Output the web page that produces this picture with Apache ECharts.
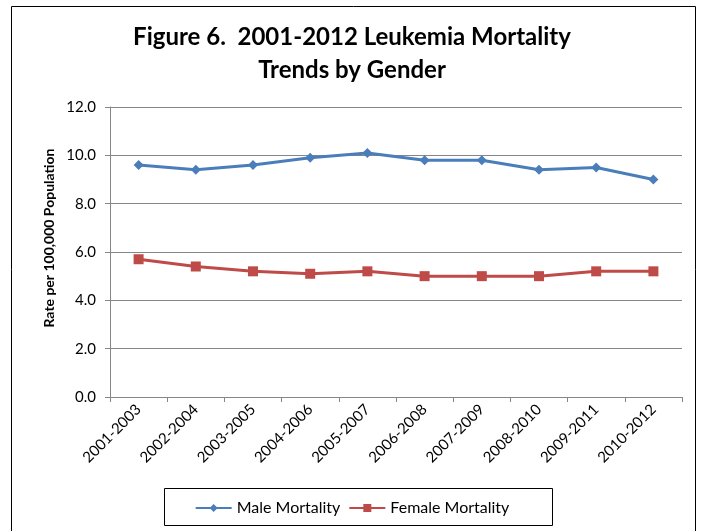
<!DOCTYPE html>
<html>
<head>
<meta charset="utf-8">
<script src="https://cdn.jsdelivr.net/npm/echarts@6/dist/echarts.min.js"></script>
<style>
  body { margin: 0; background: #fff; }
  #chart { width: 704px; height: 531px; }
</style>
</head>
<body>
<div id="chart"></div>
<script>
// data
var categories = ['2001-2003', '2002-2004', '2003-2005', '2004-2006', '2005-2007',
                  '2006-2008', '2007-2009', '2008-2010', '2009-2011', '2010-2012'];
var maleMortality = [9.6, 9.4, 9.6, 9.9, 10.1, 9.8, 9.8, 9.4, 9.5, 9.0];
var femaleMortality = [5.7, 5.4, 5.2, 5.1, 5.2, 5.0, 5.0, 5.0, 5.2, 5.2];
var yTicks = [0, 2, 4, 6, 8, 10, 12];

var font = 'Lato, "Open Sans", sans-serif';
var chart = echarts.init(document.getElementById('chart'));

var option = {
  animation: false,
  textStyle: { fontFamily: font },
  title: {
    text: 'Figure 6.  2001-2012 Leukemia Mortality\nTrends by Gender',
    left: 'center',
    top: 16,
    textStyle: { fontSize: 24, fontWeight: 'bold', color: '#000', lineHeight: 33, fontFamily: font }
  },
  graphic: [{
    type: 'rect',
    shape: { x: 11.5, y: 6.5, width: 684, height: 540 },
    style: { fill: 'none', stroke: '#000', lineWidth: 1 },
    silent: true
  }, {
    type: 'rect',
    shape: { x: 164.5, y: 488.5, width: 388, height: 37 },
    style: { fill: 'none', stroke: '#000', lineWidth: 1 },
    silent: true
  }, {
    // y axis title, placed as in the original
    type: 'text',
    x: 49,
    y: 238,
    rotation: Math.PI / 2,
    style: {
      text: 'Rate per 100,000 Population',
      fontSize: 14,
      fontWeight: 'bold',
      fontFamily: font,
      fill: '#000',
      align: 'center',
      verticalAlign: 'middle'
    },
    silent: true
  }],
  legend: {
    data: ['Male Mortality', 'Female Mortality'],
    top: 495,
    left: 'center',
    itemWidth: 36,
    itemHeight: 10,
    itemGap: 8,
    textStyle: { fontSize: 16, color: '#000', fontFamily: font }
  },
  grid: { left: 110, right: 22, top: 107, bottom: 134 },
  xAxis: {
    type: 'category',
    data: categories,
    boundaryGap: true,
    axisLine: { lineStyle: { color: '#868686', width: 1 } },
    axisTick: { show: true, length: 5, alignWithLabel: false, lineStyle: { color: '#868686' } },
    axisLabel: { rotate: 45, fontSize: 15, color: '#000', margin: 10, interval: 0 }
  },
  yAxis: {
    type: 'value',
    min: yTicks[0],
    max: yTicks[yTicks.length - 1],
    interval: 2,
    axisLine: { show: true, lineStyle: { color: '#868686' } },
    axisTick: { show: true, length: 5, inside: false, lineStyle: { color: '#868686' } },
    axisLabel: { fontSize: 15, color: '#000', margin: 14, formatter: function (v) { return v.toFixed(1); } },
    splitLine: { lineStyle: { color: '#868686', width: 1 } }
  },
  series: [{
    name: 'Male Mortality',
    type: 'line',
    data: maleMortality,
    symbol: 'diamond',
    symbolSize: 10,
    color: '#4a7ebb',
    lineStyle: { width: 3, color: '#4a7ebb' },
    itemStyle: { color: '#4a7ebb' }
  }, {
    name: 'Female Mortality',
    type: 'line',
    data: femaleMortality,
    symbol: 'rect',
    symbolSize: 10,
    color: '#be4b48',
    lineStyle: { width: 3, color: '#be4b48' },
    itemStyle: { color: '#be4b48' }
  }]
};

chart.setOption(option);
</script>
</body>
</html>
